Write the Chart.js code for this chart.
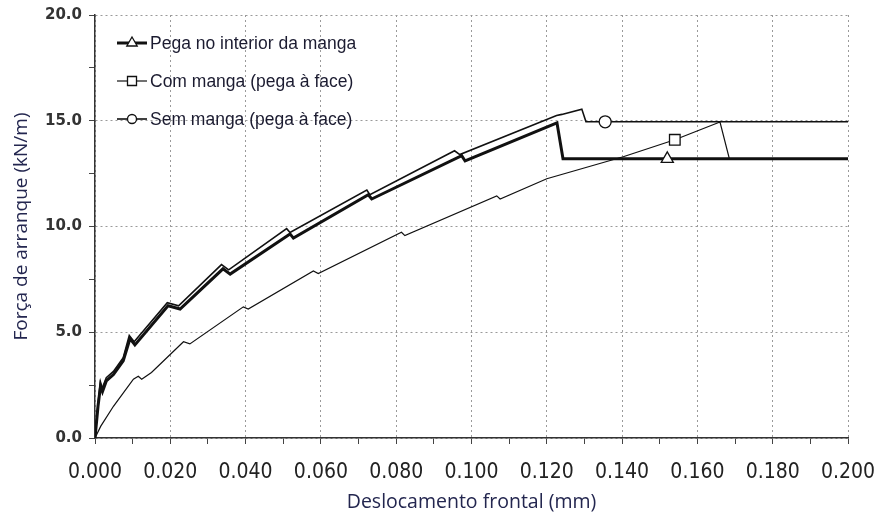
<!DOCTYPE html>
<html>
<head>
<meta charset="utf-8">
<script src="https://cdn.jsdelivr.net/npm/chart.js"></script>
<style>
  html, body { margin: 0; padding: 0; background: #fff; }
</style>
</head>
<body>
<canvas id="chart" width="877" height="519"></canvas>
<script>
// Pega no interior da manga (thick line)
const interiorX = [0, 0.0008, 0.0015, 0.0020, 0.0030, 0.0049, 0.0075, 0.0093, 0.0106, 0.0194, 0.0226, 0.0340, 0.0359, 0.0518, 0.0527, 0.0726, 0.0735, 0.0974, 0.0983, 0.1227, 0.1243, 0.1520, 0.2000];
const interiorY = [0, 1.5, 2.5, 2.2, 2.7, 3.0, 3.65, 4.7, 4.4, 6.25, 6.1, 8.0, 7.75, 9.65, 9.45, 11.5, 11.3, 13.35, 13.1, 14.9, 13.2, 13.2, 13.2];

// Com manga (pega à face)
const comX = [0, 0.0015, 0.0049, 0.0102, 0.0115, 0.0124, 0.0150, 0.0235, 0.0252, 0.0394, 0.0407, 0.0580, 0.0593, 0.0814, 0.0823, 0.1067, 0.1076, 0.1200, 0.1403, 0.1540, 0.1660, 0.1685, 0.2000];
const comY = [0, 0.55, 1.5, 2.78, 2.92, 2.78, 3.1, 4.55, 4.45, 6.2, 6.1, 7.9, 7.78, 9.73, 9.57, 11.45, 11.3, 12.26, 13.3, 14.1, 14.94, 13.2, 13.2];

// Sem manga (pega à face)
const semX = [0, 0.0008, 0.0014, 0.0019, 0.0030, 0.0049, 0.0075, 0.0091, 0.0104, 0.0192, 0.0222, 0.0336, 0.0355, 0.0509, 0.0518, 0.0722, 0.0730, 0.0955, 0.0969, 0.1226, 0.1240, 0.1293, 0.1304, 0.1355, 0.2000];
const semY = [0, 1.6, 2.6, 2.35, 2.85, 3.15, 3.8, 4.85, 4.55, 6.4, 6.25, 8.2, 7.95, 9.9, 9.72, 11.72, 11.5, 13.58, 13.4, 15.25, 15.3, 15.55, 14.95, 14.95, 14.95];

// x position of the single marker on each curve
const markerX = [0.152, 0.154, 0.1355];

const seriesLabels = ['Pega no interior da manga', 'Com manga (pega à face)', 'Sem manga (pega à face)'];

const toPoints = (xs, ys) => xs.map((x, i) => ({ x: x, y: ys[i] }));

function marker(ctx, style, x, y, r) {
    ctx.beginPath();
    if (style === 'triangle') {
        for (let k = 0; k < 3; k++) {
            const a = k * 2 * Math.PI / 3;
            const px = x + Math.sin(a) * r, py = y - Math.cos(a) * r;
            k ? ctx.lineTo(px, py) : ctx.moveTo(px, py);
        }
        ctx.closePath();
    } else if (style === 'rect') {
        ctx.rect(x - r, y - r, 2 * r, 2 * r);
    } else {
        ctx.arc(x, y, r, 0, 2 * Math.PI);
    }
    ctx.fillStyle = '#fff';
    ctx.fill();
    ctx.stroke();
}

// legend drawn inside the plot, line sample with its marker
const insideLegend = {
    id: 'insideLegend',
    afterDraw(chart) {
        const ctx = chart.ctx;
        chart.data.datasets.forEach((ds, i) => {
            const y = 43 + i * 38;
            ctx.save();
            ctx.strokeStyle = '#111';
            ctx.lineWidth = ds.borderWidth;
            ctx.beginPath();
            ctx.moveTo(117, y);
            ctx.lineTo(147, y);
            ctx.stroke();
            ctx.lineWidth = 1.3;
            marker(ctx, ds.pointStyle, 132, y, ds.pointStyle === 'triangle' ? 6 : 4.5);
            ctx.fillStyle = '#1b1b30';
            ctx.font = '17.5px "Liberation Sans", Arial, sans-serif';
            ctx.textBaseline = 'middle';
            ctx.fillText(ds.label, 150, y + 1);
            ctx.restore();
        });
    }
};

const isMajorX = v => Math.round(v * 1000) % 20 === 0;
const isMajorY = v => Math.abs(v / 5 - Math.round(v / 5)) < 1e-6;

function makeSet(label, xs, ys, width, style, mx, radius) {
    return {
        label: label,
        data: toPoints(xs, ys),
        showLine: true,
        fill: false,
        tension: 0,
        borderColor: '#111',
        borderWidth: width,
        pointStyle: style,
        pointBackgroundColor: '#fff',
        pointBorderColor: '#111',
        pointBorderWidth: 1.3,
        pointRadius: c => (c.raw && c.raw.x === mx ? radius : 0),
        pointHoverRadius: 0
    };
}

new Chart(document.getElementById('chart'), {
    type: 'scatter',
    data: {
        datasets: [
            makeSet(seriesLabels[0], interiorX, interiorY, 3, 'triangle', markerX[0], 7),
            makeSet(seriesLabels[1], comX, comY, 1.2, 'rect', markerX[1], 7.5),
            makeSet(seriesLabels[2], semX, semY, 1.6, 'circle', markerX[2], 6)
        ]
    },
    options: {
        responsive: false,
        animation: false,
        layout: { padding: { top: 15, right: 29, left: 0, bottom: 0 } },
        plugins: {
            legend: { display: false },
            tooltip: { enabled: false }
        },
        scales: {
            x: {
                type: 'linear',
                min: 0,
                max: 0.2,
                ticks: {
                    stepSize: 0.01,
                    autoSkip: false,
                    maxRotation: 0,
                    padding: 16,
                    color: '#222',
                    font: { family: '"Liberation Sans Narrow", "DejaVu Sans Condensed", sans-serif', size: 21 },
                    callback: v => (isMajorX(v) ? v.toFixed(3) : '')
                },
                grid: {
                    color: c => (c.tick && isMajorX(c.tick.value) ? '#9a9a9a' : 'rgba(0,0,0,0)'),
                    tickColor: '#444',
                    tickLength: 6,
                    lineWidth: 1,
                    tickBorderDash: []
                },
                border: { color: '#333', width: 1.5, dash: [2, 3] },
                title: {
                    display: true,
                    text: 'Deslocamento frontal (mm)',
                    color: '#23264f',
                    font: { family: '"Open Sans", sans-serif', size: 19.5 },
                    padding: { top: 0, bottom: 5 }
                },
                afterFit: s => {
                    s.height = 81;
                    s.paddingLeft = 0;
                    s.paddingRight = 0;
                }
            },
            y: {
                min: 0,
                max: 20,
                ticks: {
                    stepSize: 2.5,
                    autoSkip: false,
                    padding: 7,
                    color: '#333',
                    font: { family: '"DejaVu Sans", sans-serif', size: 15, weight: 'bold' },
                    callback: v => (isMajorY(v) ? v.toFixed(1) : '')
                },
                grid: {
                    color: c => (c.tick && isMajorY(c.tick.value) ? '#9a9a9a' : 'rgba(0,0,0,0)'),
                    tickColor: '#444',
                    tickLength: 6,
                    lineWidth: 1,
                    tickBorderDash: []
                },
                border: { color: '#333', width: 1.5, dash: [2, 3] },
                title: {
                    display: true,
                    text: 'Força de arranque (kN/m)',
                    color: '#23264f',
                    font: { family: '"Open Sans", sans-serif', size: 19 },
                    padding: { top: 10, bottom: 0 }
                },
                afterFit: s => {
                    s.width = 95;
                    s.paddingTop = 0;
                    s.paddingBottom = 0;
                }
            }
        }
    },
    plugins: [insideLegend]
});
</script>
</body>
</html>
